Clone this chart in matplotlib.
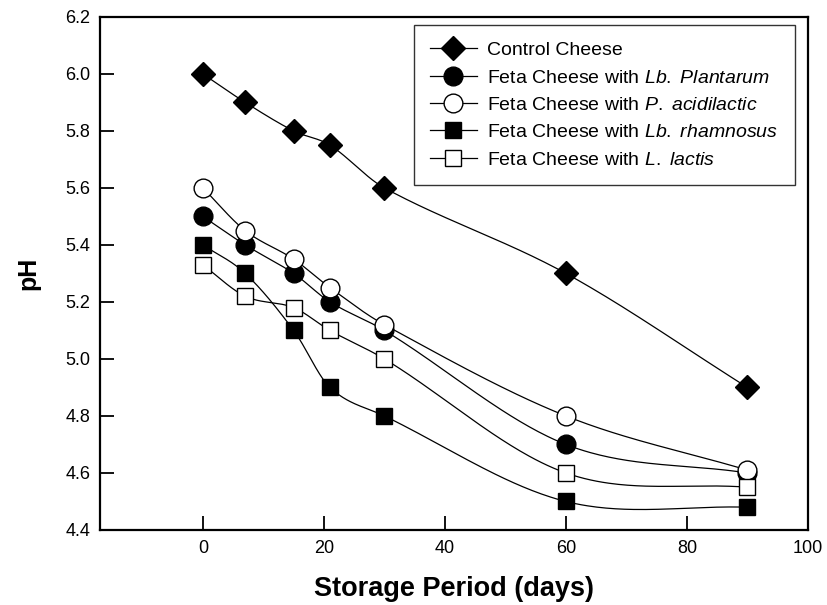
import numpy as np
import matplotlib
matplotlib.use("Agg")
import matplotlib.pyplot as plt

plt.rcParams['font.family'] = ['Liberation Sans', 'DejaVu Sans']
plt.rcParams['mathtext.fontset'] = 'custom'
plt.rcParams['mathtext.rm'] = 'Liberation Sans'
plt.rcParams['mathtext.it'] = 'Liberation Sans:italic'

days = [0, 7, 15, 21, 30, 60, 90]
control = [6.0, 5.9, 5.8, 5.75, 5.6, 5.3, 4.9]
plantarum = [5.5, 5.4, 5.3, 5.2, 5.1, 4.7, 4.6]
acidilactic = [5.6, 5.45, 5.35, 5.25, 5.12, 4.8, 4.61]
rhamnosus = [5.4, 5.3, 5.1, 4.9, 4.8, 4.5, 4.48]
lactis = [5.33, 5.22, 5.18, 5.1, 5.0, 4.6, 4.55]

labels = ["Control Cheese",
          r"Feta Cheese with $\mathit{Lb.}$ $\mathit{Plantarum}$",
          r"Feta Cheese with $\mathit{P.}$ $\mathit{acidilactic}$",
          r"Feta Cheese with $\mathit{Lb.}$ $\mathit{rhamnosus}$",
          r"Feta Cheese with $\mathit{L.}$ $\mathit{lactis}$"]
x_ticks = [0, 20, 40, 60, 80, 100]
y_ticks = [4.4, 4.6, 4.8, 5.0, 5.2, 5.4, 5.6, 5.8, 6.0, 6.2]


def smooth_curve(x, y, per_seg=60):
    """Cubic Hermite curve through the data points (Catmull-Rom tangents)."""
    x = np.asarray(x, float)
    y = np.asarray(y, float)
    m = len(x)
    d = np.zeros(m)
    d[0] = (y[1] - y[0]) / (x[1] - x[0])
    d[-1] = (y[-1] - y[-2]) / (x[-1] - x[-2])
    for i in range(1, m - 1):
        d[i] = (y[i + 1] - y[i - 1]) / (x[i + 1] - x[i - 1])
    xs_all, ys_all = [], []
    for i in range(m - 1):
        h = x[i + 1] - x[i]
        t = np.linspace(0, 1, per_seg)
        h00 = 2 * t ** 3 - 3 * t ** 2 + 1
        h10 = t ** 3 - 2 * t ** 2 + t
        h01 = -2 * t ** 3 + 3 * t ** 2
        h11 = t ** 3 - t ** 2
        ys = h00 * y[i] + h10 * h * d[i] + h01 * y[i + 1] + h11 * h * d[i + 1]
        xs_all.append(x[i] + t * h)
        ys_all.append(ys)
    return np.concatenate(xs_all), np.concatenate(ys_all)


fig = plt.figure(figsize=(8.27, 6.05), dpi=100)
ax = fig.add_axes([0.121, 0.124, 0.856, 0.848])

series = [control, plantarum, acidilactic, rhamnosus, lactis]
styles = [
    dict(marker='D', ms=12, mfc='black'),
    dict(marker='o', ms=13.5, mfc='black'),
    dict(marker='o', ms=13.5, mfc='white'),
    dict(marker='s', ms=12, mfc='black'),
    dict(marker='s', ms=12, mfc='white'),
]
handles = []
for vals, st, lab in zip(series, styles, labels):
    xs, ys = smooth_curve(days, vals)
    ax.plot(xs, ys, color='black', lw=0.9, zorder=2)
    ax.plot(days, vals, ls='none', marker=st['marker'], ms=st['ms'],
            mfc=st['mfc'], mec='black', mew=1.0, zorder=3)
    h, = ax.plot([], [], color='black', lw=0.9, marker=st['marker'],
                 ms=st['ms'], mfc=st['mfc'], mec='black', mew=1.0, label=lab)
    handles.append(h)

ax.set_xlim(-17, 100)
ax.set_ylim(4.4, 6.2)
ax.set_xticks(x_ticks)
ax.set_yticks(y_ticks)
ax.set_yticklabels([f"{v:.1f}" for v in y_ticks])
ax.tick_params(direction='in', length=10, width=1.3, labelsize=13, pad=7)
for s in ax.spines.values():
    s.set_linewidth(1.6)

ax.set_xlabel("Storage Period (days)", fontsize=19.5, fontweight='bold', labelpad=14)
ax.set_ylabel("pH", fontsize=18, fontweight='bold', labelpad=18)

leg = ax.legend(handles=handles, loc='upper right', bbox_to_anchor=(0.9816, 0.984),
                fontsize=14, frameon=True, fancybox=False, edgecolor='black',
                labelspacing=0.5, handlelength=2.4, handletextpad=0.55,
                borderpad=0.85, borderaxespad=0.0)
leg.get_frame().set_linewidth(1.0)

fig.savefig("out.png", dpi=100)
